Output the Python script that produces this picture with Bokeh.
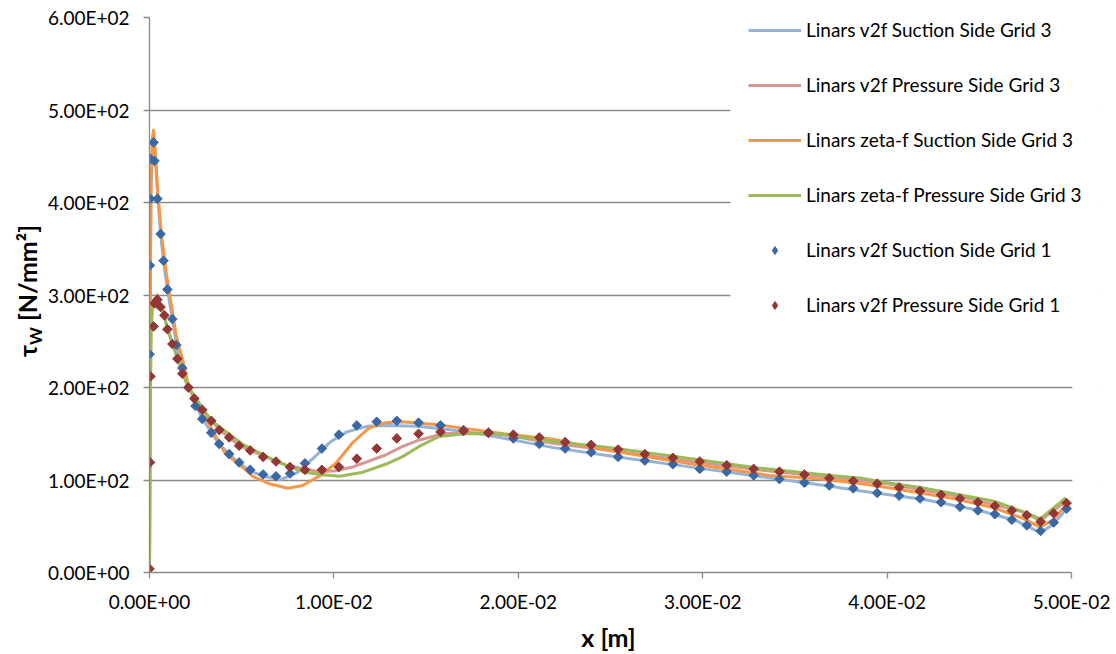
import numpy as np
from bokeh.plotting import figure
from bokeh.layouts import row, column
from bokeh.models import Legend, LegendItem, FixedTicker, BoxAnnotation, Range1d, Div
from bokeh.embed import file_html
from bokeh.resources import INLINE

# ---------------- data (x in m, tau_w in N/mm^2) ----------------
x_ticks = [0.0, 0.01, 0.02, 0.03, 0.04, 0.05]
x_tick_labels = ["0.00E+00", "1.00E-02", "2.00E-02", "3.00E-02", "4.00E-02", "5.00E-02"]
y_ticks = [0, 100, 200, 300, 400, 500, 600]
y_tick_labels = ["0.00E+00", "1.00E+02", "2.00E+02", "3.00E+02", "4.00E+02", "5.00E+02", "6.00E+02"]
x_axis_max = 0.05
y_axis_max = 600

series_names = [
    "Linars v2f Suction Side Grid 3",
    "Linars v2f Pressure Side Grid 3",
    "Linars zeta-f Suction Side Grid 3",
    "Linars zeta-f Pressure Side Grid 3",
    "Linars v2f Suction Side Grid 1",
    "Linars v2f Pressure Side Grid 1",
]
x_title = "x [m]"
y_title_main, y_title_sub, y_title_unit = "τ", "W", " [N/mm²]"

# Linars v2f Suction Side Grid 3
v2f_ss_g3_x = [0.0, 0.00003, 0.00008, 0.00016, 0.00022, 0.0003, 0.00045, 0.0006, 0.00076, 0.00097,
               0.00124, 0.00146, 0.00178, 0.0025, 0.00286, 0.00335, 0.00378, 0.00432, 0.00486, 0.00546,
               0.0062, 0.0069, 0.0072, 0.008, 0.0089, 0.0098, 0.0107, 0.0118, 0.0128, 0.0146,
               0.0164, 0.0182, 0.0219, 0.025, 0.029, 0.033, 0.037, 0.0386, 0.042, 0.045,
               0.047, 0.0483, 0.049, 0.0497]
v2f_ss_g3_y = [0, 250, 415, 462, 468, 452, 405, 366, 337, 306,
               274, 247, 221, 181, 167, 151, 139, 128, 118, 110,
               104, 101, 101, 108, 124, 141, 152, 158, 159, 158,
               154, 149, 135, 126, 115, 104, 93, 88, 79, 67,
               56, 43, 52, 68]

# Linars v2f Pressure Side Grid 3
v2f_ps_g3_x = [0.0, 0.00003, 0.00008, 0.00016, 0.00035, 0.0006, 0.0008, 0.00097, 0.00124, 0.0015,
               0.0018, 0.0021, 0.0029, 0.0038, 0.0049, 0.0056, 0.0074, 0.0092, 0.0101, 0.011,
               0.0128, 0.0137, 0.0146, 0.0159, 0.0174, 0.0192, 0.0218, 0.025, 0.029, 0.033,
               0.0364, 0.04, 0.044, 0.0473, 0.0483, 0.0497]
v2f_ps_g3_y = [0, 150, 260, 290, 297, 288, 278, 264, 248, 232,
               215, 200, 176, 154, 137, 131, 116, 109, 110, 114,
               127, 136, 143, 150, 151, 149, 140, 132, 121, 111,
               104, 96, 82, 66, 56, 77]

# Linars zeta-f Suction Side Grid 3
zf_ss_g3_x = [0.0, 0.00003, 0.00008, 0.00016, 0.00022, 0.0003, 0.00045, 0.00065, 0.0009, 0.00146,
              0.0019, 0.00211, 0.0033, 0.0041, 0.0051, 0.0056, 0.0065, 0.0075, 0.0083, 0.0092,
              0.0101, 0.011, 0.0119, 0.0128, 0.0137, 0.0155, 0.0174, 0.0192, 0.0219, 0.024,
              0.0289, 0.0336, 0.0364, 0.0386, 0.04, 0.0436, 0.0458, 0.0473, 0.0483, 0.049, 0.0497]
zf_ss_g3_y = [0, 250, 420, 470, 478, 460, 410, 365, 325, 255,
              222, 201, 158, 129, 113, 104, 96, 91, 94, 104,
              118, 140, 156, 162, 163, 160, 155, 150, 144, 135,
              119, 105, 101, 96, 92, 80, 70, 59, 49, 57, 73]

# Linars zeta-f Pressure Side Grid 3
zf_ps_g3_x = [0.0, 0.00003, 0.00008, 0.00016, 0.00043, 0.0006, 0.0008, 0.00097, 0.00124, 0.0015,
              0.0018, 0.0021, 0.0033, 0.0051, 0.0069, 0.0083, 0.0092, 0.0103, 0.0115, 0.0128,
              0.0137, 0.0146, 0.0157, 0.0171, 0.019, 0.0218, 0.025, 0.029, 0.033, 0.0364,
              0.0386, 0.04, 0.0418, 0.0458, 0.0476, 0.0483, 0.0497]
zf_ps_g3_y = [0, 140, 255, 290, 300, 288, 277, 263, 248, 232,
              216, 201, 165, 138, 120, 109, 106, 104, 108, 117,
              125, 136, 147, 150, 150, 142, 135, 124, 113, 106,
              102, 97, 92, 77, 64, 58, 81]

# Linars v2f Suction Side Grid 1 (markers)
v2f_ss_g1_x = [0.0, 0.00002, 0.00004, 0.00006, 0.00022, 0.00027, 0.00043, 0.0006, 0.00076, 0.00097,
               0.00124, 0.00146, 0.00178, 0.00249, 0.00286, 0.00335, 0.00378, 0.00432, 0.00486, 0.00546,
               0.00616, 0.00686, 0.00762, 0.00843, 0.00935, 0.01027, 0.01124, 0.01232, 0.01341, 0.01459,
               0.01578, 0.01703, 0.01838, 0.01973, 0.02114, 0.02254, 0.02395, 0.02541, 0.02686, 0.02838,
               0.02984, 0.0313, 0.03276, 0.03416, 0.03551, 0.03686, 0.03816, 0.03946, 0.04065, 0.04178,
               0.04292, 0.04395, 0.04492, 0.04584, 0.04676, 0.04757, 0.04832, 0.04903, 0.04973]
v2f_ss_g1_y = [236, 332, 404, 447, 465, 445, 404, 366, 337, 306,
               274, 246, 221, 180, 166, 151, 139, 128, 119, 111,
               106, 104, 107, 118, 134, 149, 159, 163, 164, 162,
               159, 154, 151, 145, 139, 134, 130, 125, 121, 117,
               112, 109, 105, 101, 97, 94, 91, 86, 83, 80,
               76, 71, 67, 63, 57, 51, 45, 54, 69]

# Linars v2f Pressure Side Grid 1 (markers)
v2f_ps_g1_x = [0.0, 0.00003, 0.00005, 0.00022, 0.00027, 0.00043, 0.0006, 0.00081, 0.00097, 0.00124,
               0.00151, 0.00178, 0.00211, 0.00243, 0.00286, 0.00335, 0.00378, 0.00432, 0.00486, 0.00546,
               0.00616, 0.00686, 0.00762, 0.00843, 0.00935, 0.01027, 0.01124, 0.01232, 0.01341, 0.01459,
               0.01578, 0.01703, 0.01838, 0.01973, 0.02114, 0.02254, 0.02395, 0.02541, 0.02686, 0.02838,
               0.02984, 0.0313, 0.03276, 0.03416, 0.03551, 0.03686, 0.03816, 0.03946, 0.04065, 0.04178,
               0.04292, 0.04395, 0.04492, 0.04584, 0.04676, 0.04757, 0.04832, 0.04903, 0.04973]
v2f_ps_g1_y = [4, 119, 212, 266, 291, 295, 287, 278, 263, 247,
               231, 215, 200, 188, 176, 164, 154, 146, 137, 132,
               125, 120, 114, 111, 111, 114, 123, 134, 145, 150,
               152, 153, 151, 149, 146, 141, 138, 133, 128, 124,
               120, 116, 112, 109, 106, 102, 99, 96, 92, 88,
               84, 80, 76, 72, 67, 62, 55, 64, 75]

# ---------------- styling / layout ----------------
FONT = "Lato"
GRAY = "#8a8a8a"
line_colors = ["#95B3D7", "#D99694", "#F79646", "#9BBB59"]
marker_colors = ["#3A68A2", "#923735"]

TOTAL_W, TOTAL_H = 1110, 650
TITLE_W = 44            # column that holds the rotated y title
XTITLE_H = 35           # strip below the chart that holds the x title
MAIN_W = TOTAL_W - TITLE_W
MAIN_H = TOTAL_H - XTITLE_H
FRAME_LEFT, FRAME_RIGHT, FRAME_TOP, FRAME_BOTTOM = 146, 1100, 17, 573
AXIS_END_PX = 1071
PX_PER_X = (AXIS_END_PX - FRAME_LEFT) / x_axis_max
x_view_max = (FRAME_RIGHT - FRAME_LEFT) / PX_PER_X   # frame reaches past the axis end (room for legend)

title_css = "font-family:Lato,sans-serif;font-weight:bold;font-size:25px;color:#000;white-space:nowrap;"

# rotated y-axis title (real HTML text, subscript W)
ylen = 582
y_div = Div(
    text=(f'<div style="{title_css}width:{ylen}px;height:{TITLE_W}px;line-height:54px;text-align:center;'
          f'transform-origin:0 0;transform:rotate(-90deg) translate(-{ylen}px,0);">'
          f'{y_title_main}<span style="font-size:17px;position:relative;top:5px;">{y_title_sub}</span>'
          f'{y_title_unit}</div>'),
    width=TITLE_W, height=TOTAL_H, margin=0)

# --- main chart ---
p = figure(width=MAIN_W, height=MAIN_H, output_backend="svg", toolbar_location=None,
           x_range=Range1d(0, x_view_max), y_range=Range1d(0, y_axis_max),
           min_border_left=FRAME_LEFT - TITLE_W, min_border_right=TOTAL_W - FRAME_RIGHT,
           min_border_top=FRAME_TOP, min_border_bottom=MAIN_H - FRAME_BOTTOM)
p.outline_line_color = None
p.background_fill_color = "white"
p.border_fill_color = "white"

p.xgrid.grid_line_color = None
p.ygrid.grid_line_color = GRAY
p.ygrid.grid_line_width = 1.3
p.ygrid.ticker = FixedTicker(ticks=y_ticks)

for ax in (p.xaxis[0], p.yaxis[0]):
    ax.axis_line_color = GRAY
    ax.axis_line_width = 1.3
    ax.major_tick_line_color = GRAY
    ax.major_tick_line_width = 1.3
    ax.major_tick_in = 0
    ax.major_tick_out = 6
    ax.minor_tick_line_color = None
    ax.major_label_text_font = FONT
    ax.major_label_text_font_size = "19px"
    ax.major_label_text_color = "black"

p.xaxis.ticker = FixedTicker(ticks=x_ticks)
p.xaxis.bounds = (0, x_axis_max)
p.xaxis.major_label_overrides = {tk: s for tk, s in zip(x_ticks, x_tick_labels)}
p.yaxis.ticker = FixedTicker(ticks=y_ticks)
p.yaxis.major_label_overrides = {tk: s for tk, s in zip(y_ticks, y_tick_labels)}
p.xaxis.major_label_standoff = 11
p.yaxis.major_label_standoff = 14

# white masks: grid lines stop at the legend and at the end of the x axis
p.add_layout(BoxAnnotation(left=0.0315, bottom=265, fill_color="white", fill_alpha=1.0, line_alpha=0))
p.add_layout(BoxAnnotation(left=x_axis_max + 0.00004, fill_color="white", fill_alpha=1.0, line_alpha=0))

line_data = [(v2f_ss_g3_x, v2f_ss_g3_y), (v2f_ps_g3_x, v2f_ps_g3_y),
             (zf_ss_g3_x, zf_ss_g3_y), (zf_ps_g3_x, zf_ps_g3_y)]
legend_renderers = []
for (xs, ys), c in zip(line_data, line_colors):
    legend_renderers.append(p.line(xs, ys, line_color=c, line_width=3, line_join="round"))

marker_data = [(v2f_ss_g1_x, v2f_ss_g1_y), (v2f_ps_g1_x, v2f_ps_g1_y)]
for (xs, ys), c in zip(marker_data, marker_colors):
    # legend swatch: a diamond on the first point, hidden under the real marker
    legend_renderers.append(p.scatter(x=xs[:1], y=ys[:1], marker="diamond", size=6,
                                      fill_color=c, line_color=c))
    p.scatter(xs, ys, marker="square", angle=np.pi / 4, size=6.8, fill_color=c, line_color=c)

legend = Legend(items=[LegendItem(label=n, renderers=[r]) for n, r in zip(series_names, legend_renderers)],
                location=(599, 256), orientation="vertical",
                glyph_width=53, glyph_height=20, label_height=20, spacing=32,
                label_standoff=5, padding=10, margin=0,
                label_text_font=FONT, label_text_font_size="19px", label_text_color="black",
                background_fill_color="white", background_fill_alpha=1.0,
                border_line_color=None)
p.add_layout(legend, "center")

# x-axis title, centred under the x axis (not under the wider frame)
xc = (FRAME_LEFT + AXIS_END_PX) / 2 - TITLE_W
x_div = Div(
    text=(f'<div style="{title_css}width:{2 * xc:.0f}px;height:{XTITLE_H}px;line-height:44px;'
          f'text-align:center;">{x_title}</div>'),
    width=MAIN_W, height=XTITLE_H, margin=0)

layout = row(y_div, column(p, x_div, spacing=0), spacing=0)
open("out.html", "w").write(file_html(layout, INLINE))
